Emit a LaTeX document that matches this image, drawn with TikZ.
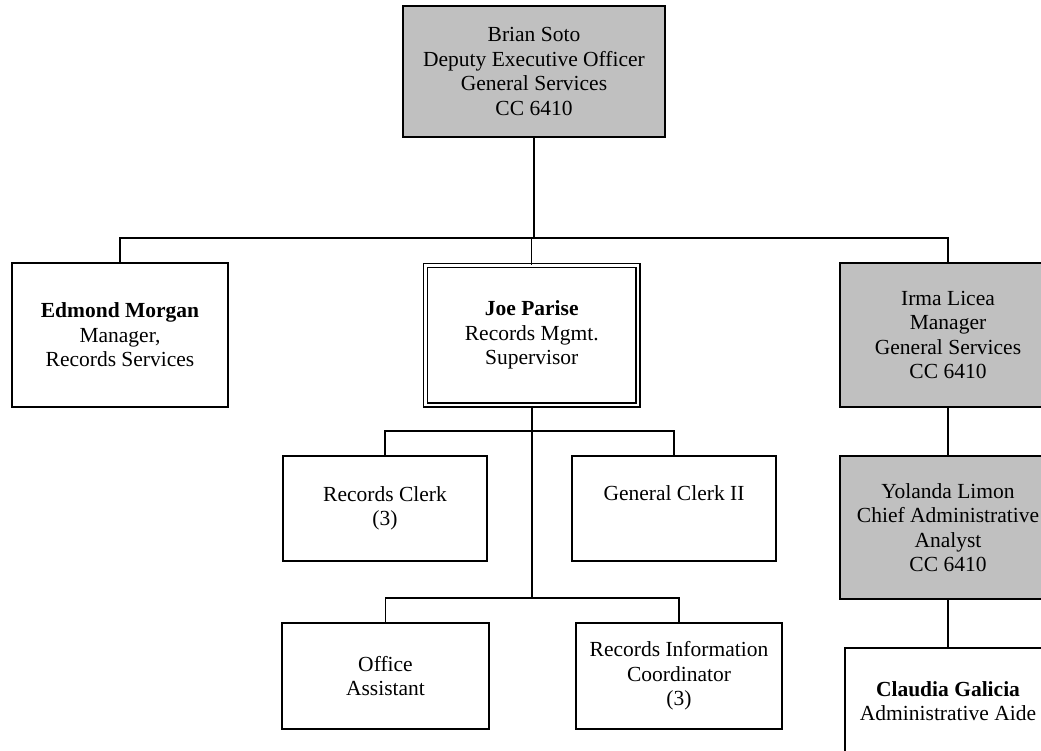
\documentclass[tikz,border=0pt]{standalone}
\usepackage{fontspec}
\setmainfont{Liberation Serif}
\definecolor{boxgray}{RGB}{192,192,192}
\begin{document}
\begin{tikzpicture}[x=1pt,y=-1pt,
  box/.style={draw, line width=1.7pt, inner sep=0pt, align=center,
    font=\fontsize{21.5}{24.5}\selectfont},
  wh/.style 2 args={minimum width=#1pt, minimum height=#2pt},
  grayfill/.style={fill=boxgray},
  dbl/.style={double=white, double distance=2.3pt, line width=1.6pt},
  conn/.style={line width=1.4pt},
  trunk/.style={line width=2.3pt}]
\useasboundingbox[fill=white] (0,0) rectangle (1041,751);
\clip (0,0) rectangle (1041,751);

\node[box, grayfill, wh={262}{131}] (top) at (534,71.5)
  {Brian Soto\\Deputy Executive Officer\\General Services\\CC 6410};
\node[box, wh={216}{144}] (edmond) at (120,335)
  {\textbf{Edmond Morgan}\\Manager,\\Records Services};
\node[box, dbl, wh={212.5}{139.5}] (joe) at (531.75,335.25)
  {\textbf{Joe Parise}\\Records Mgmt.\\Supervisor};
\node[box, grayfill, wh={216}{144}] (irma) at (948,335)
  {Irma Licea\\Manager\\General Services\\CC 6410};
\node[box, grayfill, wh={216}{143}] (yolanda) at (948,527.5)
  {Yolanda Limon\\Chief Administrative\\Analyst\\CC 6410};
\node[box, wh={206}{106}] (claudia) at (948,701)
  {\textbf{Claudia Galicia}\\Administrative Aide};
\node[box, wh={204}{105}] (rclerk) at (385,508.5)
  {Records Clerk\\(3)};
\node[box, wh={204}{105}] (gclerk) at (674,508.5)
  {General Clerk II\\\strut};
\node[box, wh={207}{106}] (office) at (385.5,676)
  {Office\\Assistant};
\node[box, wh={206}{106}] (rinfo) at (679,676)
  {Records Information\\Coordinator\\(3)};

\coordinate (bus) at (534,239);
\coordinate (bus3) at (532,599);

\draw[trunk] (top.south) -- (top.south |- bus);
\draw[conn] (edmond.north) -- ++(0,-24) -| (irma.north);
\draw[conn] (joe.north) -- (joe.north |- bus);
\draw[trunk] (joe.south) -- (joe.south |- bus3);
\draw[conn] (rclerk.north) -- ++(0,-24) -| (gclerk.north);
\draw[conn] (office.north) -- ++(0,-24) -| (rinfo.north);
\draw[trunk] (irma.south) -- (yolanda.north);
\draw[trunk] (yolanda.south) -- (claudia.north);
\end{tikzpicture}
\end{document}
